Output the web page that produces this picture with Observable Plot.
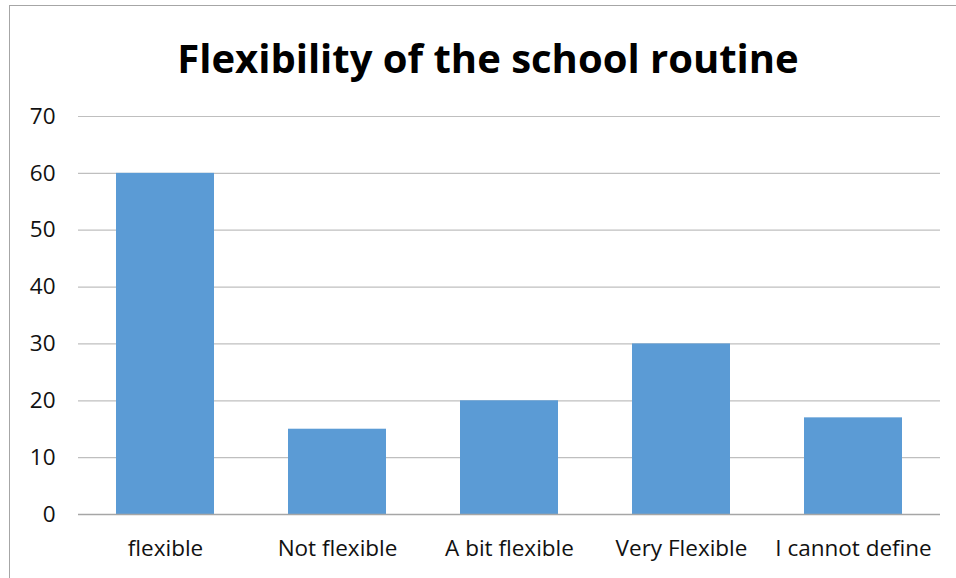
<!DOCTYPE html>
<html><head><meta charset="utf-8">
<script src="https://cdn.jsdelivr.net/npm/d3@7"></script>
<script src="https://cdn.jsdelivr.net/npm/@observablehq/plot@0.6"></script>
<style>
body{margin:0;background:#fff;}
#wrap{position:relative;width:956px;height:578px;overflow:hidden;font-family:"Open Sans",sans-serif;}
#frame{position:absolute;left:9px;top:5px;width:1000px;height:1000px;border-left:1.5px solid #a6a6a6;border-top:1.5px solid #a6a6a6;}
#title{position:absolute;left:0;width:976px;top:31px;text-align:center;font-weight:700;font-size:40px;color:#000;line-height:54px;}
#chart{position:absolute;left:0;top:90px;}
</style></head>
<body><div id="wrap"><div id="frame"></div><div id="title">Flexibility of the school routine</div><div id="chart"></div></div>
<script>
const categories = ["flexible","Not flexible","A bit flexible","Very Flexible","I cannot define"];
const values = [60,15,20,30,17];
const yTicks = [0,10,20,30,40,50,60,70];
const data = categories.map((c,i)=>({category:c,value:values[i]}));
const chart = Plot.plot({
  width:956, height:488,
  marginTop:26, marginBottom:64, marginLeft:78, marginRight:16,
  style:{fontFamily:"'Open Sans', sans-serif", fontSize:"22.5px", color:"#111", background:"transparent"},
  x:{domain:categories, paddingInner:0.43, paddingOuter:0.215, label:null, tickSize:0, tickPadding:26},
  y:{domain:[0,70], ticks:yTicks, label:null, tickSize:0, tickPadding:23},
  marks:[
    Plot.gridY(yTicks.filter(t=>t>0), {stroke:"#bfbfbf", strokeOpacity:1, strokeWidth:1.2}),
    Plot.barY(data,{x:"category", y:"value", fill:"#5b9bd5"}),
    Plot.ruleY([0],{stroke:"#a6a6a6", strokeWidth:1.5})
  ]
});
document.getElementById("chart").append(chart);
</script></body></html>
